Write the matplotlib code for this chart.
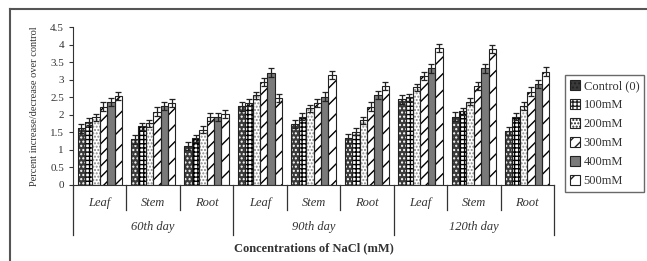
import matplotlib
matplotlib.use("Agg")
import matplotlib.pyplot as plt
import numpy as np
from matplotlib.lines import Line2D
from matplotlib.patches import Patch

plt.rcParams['font.family'] = ['Liberation Serif', 'DejaVu Serif']
plt.rcParams['hatch.linewidth'] = 1.0

days = ["60th day", "90th day", "120th day"]
organs = ["Leaf", "Stem", "Root"]
series = ["Control (0)", "100mM", "200mM", "300mM", "400mM", "500mM"]

# values per series, 9 categories (Leaf/Stem/Root x 60/90/120 days)
control = [1.61, 1.30, 1.11, 2.24, 1.74, 1.33, 2.44, 1.95, 1.54]
mm100   = [1.80, 1.68, 1.33, 2.34, 1.95, 1.52, 2.50, 2.10, 1.95]
mm200   = [1.93, 1.76, 1.57, 2.56, 2.18, 1.85, 2.78, 2.37, 2.25]
mm300   = [2.23, 2.09, 1.93, 2.94, 2.33, 2.23, 3.10, 2.82, 2.66]
mm400   = [2.37, 2.25, 1.93, 3.20, 2.52, 2.56, 3.32, 3.32, 2.87]
mm500   = [2.54, 2.33, 2.02, 2.47, 3.13, 2.82, 3.91, 3.87, 3.23]
err = [0.12, 0.10, 0.10, 0.12, 0.12, 0.12]

values = [control, mm100, mm200, mm300, mm400, mm500]
faces = ['#3a3a3a', 'white', 'white', 'white', '#7a7a7a', 'white']
hatches = ['....', '++++', '.....', '///', '', '//']
hatch_cols = ['white', 'black', '#888888', 'black', 'black', 'black']

fig = plt.figure(figsize=(6.47, 2.61), dpi=100)
ax = fig.add_axes([73/647, 1-185/261, (554-73)/647, (185-27)/261])

n = len(series)
width = 0.83 / n
x = np.arange(9)
for i in range(n):
    pos = x - 0.415 + width * (i + 0.5)
    ax.bar(pos, values[i], width, color=faces[i], edgecolor='none', zorder=2)
    if hatches[i]:
        ax.bar(pos, values[i], width, color='none', edgecolor=hatch_cols[i],
               hatch=hatches[i], linewidth=0, zorder=3)
    ax.bar(pos, values[i], width, color='none', edgecolor='#222222',
           linewidth=0.8, zorder=4)
    ax.errorbar(pos, values[i], yerr=err[i], fmt='none', ecolor='#222222',
                elinewidth=0.9, capsize=2.5, capthick=0.9, zorder=5)

ax.set_xlim(-0.5, 8.5)
ax.set_ylim(0, 4.5)
ax.set_yticks(np.arange(0, 4.51, 0.5))
ax.set_yticklabels(['0', '0.5', '1', '1.5', '2', '2.5', '3', '3.5', '4', '4.5'])
ax.tick_params(axis='y', labelsize=8, length=3, width=0.8, colors='#333333')
ax.set_xticks([])
for s in ['top', 'right']:
    ax.spines[s].set_visible(False)
ax.spines['left'].set_color('#333333')
ax.spines['bottom'].set_color('#333333')

# category separators
for k in range(10):
    xb = k - 0.5
    ybot = -0.316 if k % 3 == 0 else -0.158
    ax.add_line(Line2D([xb, xb], [0, ybot], transform=ax.get_xaxis_transform(),
                       color='#333333', lw=0.9, clip_on=False))
for k in range(9):
    ax.text(k, -0.114, organs[k % 3], transform=ax.get_xaxis_transform(),
            ha='center', va='center', fontsize=9, style='italic', color='#333333')
for g in range(3):
    ax.text(3*g + 1, -0.266, days[g], transform=ax.get_xaxis_transform(),
            ha='center', va='center', fontsize=9, style='italic', color='#333333')
ax.text(4, -0.40, "Concentrations of NaCl (mM)", transform=ax.get_xaxis_transform(),
        ha='center', va='center', fontsize=9, fontweight='bold', color='#333333')

ax.set_ylabel("Percent increase/decrease over control", fontsize=7.5, color='#333333',
              labelpad=8)

handles = [Patch(facecolor=faces[i], edgecolor='#222222', hatch=hatches[i], linewidth=0.8)
           for i in range(n)]
leg = ax.legend(handles, series, loc='upper left', bbox_to_anchor=(565/647, 1-75/261),
                bbox_transform=fig.transFigure,
                fontsize=9, frameon=True, fancybox=False, edgecolor='#444444',
                handlelength=0.8, handleheight=0.8, handletextpad=0.3, labelspacing=0.55,
                borderpad=0.4, borderaxespad=0)
leg.get_frame().set_linewidth(1.0)
for t in leg.get_texts():
    t.set_color('#333333')

# figure frame (top and left lines)
fig.add_artist(Line2D([10/647, 1], [1-9/261, 1-9/261], transform=fig.transFigure,
                      color='#555555', lw=1.5))
fig.add_artist(Line2D([10/647, 10/647], [0, 1-9/261], transform=fig.transFigure,
                      color='#555555', lw=1.5))

fig.savefig("out.png", dpi=100)
